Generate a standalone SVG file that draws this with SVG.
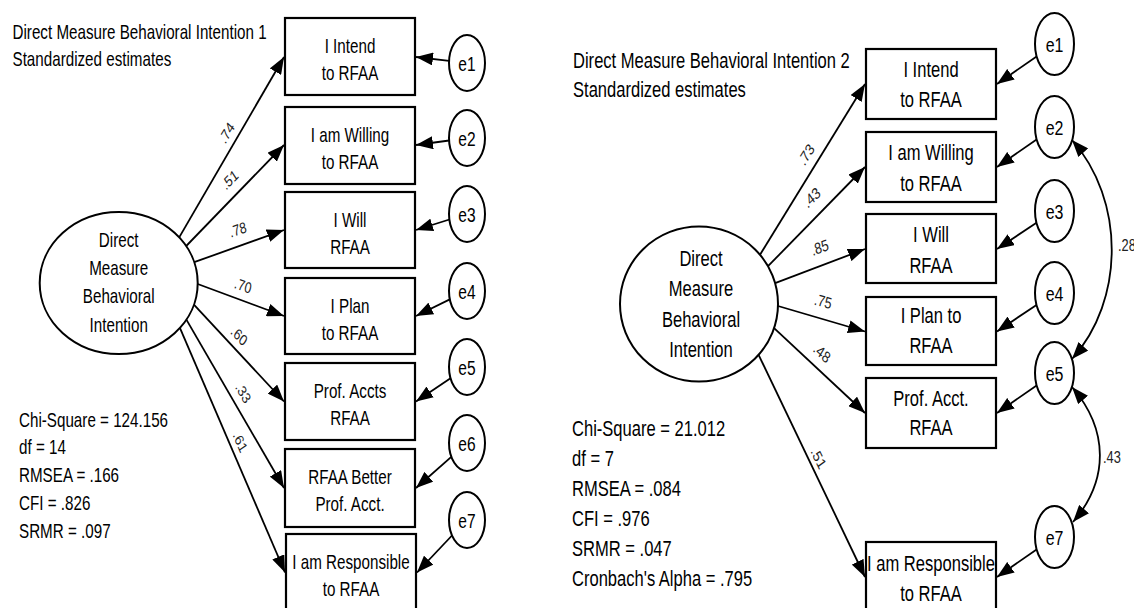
<svg xmlns="http://www.w3.org/2000/svg" width="1134" height="608" viewBox="0 0 1134 608">
<style>
text{font-family:"Liberation Sans",Arial,sans-serif;fill:#000}
.a{font-size:20px}
.b{font-size:21.5px}
.e{font-size:21px}
.m{text-anchor:middle}
.lab{font-size:15.5px;fill:#222;text-anchor:middle}
.labr{font-size:16px;fill:#222;text-anchor:middle}
.box{fill:#fff;stroke:#000;stroke-width:2.2}
.ell{fill:#fff;stroke:#000;stroke-width:2}
.c line,.c path{stroke:#000;stroke-width:1.8;fill:none}
</style>
<defs>
<marker id="ah" viewBox="0 0 17 13" markerWidth="17" markerHeight="13" refX="17" refY="6.5" orient="auto-start-reverse" markerUnits="userSpaceOnUse"><path d="M0,0 L17,6.5 L0,13 z" fill="#000"/></marker>
</defs>

<g id="title-left">
<text class="a" transform="translate(12.5,0) scale(0.76,1)"><tspan x="0" y="39">Direct Measure Behavioral Intention 1</tspan><tspan x="0" y="66.5">Standardized estimates</tspan></text>
</g>
<g id="stats-left">
<text class="a" transform="translate(19,0) scale(0.76,1)"><tspan x="0" y="427">Chi-Square = 124.156</tspan><tspan x="0" y="454.5">df = 14</tspan><tspan x="0" y="482">RMSEA = .166</tspan><tspan x="0" y="510">CFI = .826</tspan><tspan x="0" y="538">SRMR = .097</tspan></text>
</g>

<g id="title-right">
<text class="b" transform="translate(573,0) scale(0.77,1)"><tspan x="0" y="68">Direct Measure Behavioral Intention 2</tspan><tspan x="0" y="97">Standardized estimates</tspan></text>
</g>
<g id="stats-right">
<text class="b" transform="translate(572,0) scale(0.77,1)"><tspan x="0" y="436">Chi-Square = 21.012</tspan><tspan x="0" y="466">df = 7</tspan><tspan x="0" y="496.5">RMSEA = .084</tspan><tspan x="0" y="526.5">CFI = .976</tspan><tspan x="0" y="556.5">SRMR = .047</tspan><tspan x="0" y="586.5">Cronbach's Alpha = .795</tspan></text>
</g>

<g id="connectors" class="c">
<line x1="179.2" y1="237.4" x2="284" y2="57" marker-end="url(#ah)"/>
<line x1="186.2" y1="246" x2="284" y2="145" marker-end="url(#ah)"/>
<line x1="194.2" y1="262.2" x2="284" y2="230" marker-end="url(#ah)"/>
<line x1="197.7" y1="284" x2="284" y2="316" marker-end="url(#ah)"/>
<line x1="193.9" y1="304.7" x2="284" y2="401.5" marker-end="url(#ah)"/>
<line x1="186.4" y1="319.6" x2="284" y2="488" marker-end="url(#ah)"/>
<line x1="179.9" y1="327.9" x2="285" y2="572.5" marker-end="url(#ah)"/>
<line x1="449.1" y1="60.9" x2="416" y2="57" marker-end="url(#ah)"/>
<line x1="449.1" y1="140.5" x2="416" y2="145" marker-end="url(#ah)"/>
<line x1="449.4" y1="219.5" x2="416" y2="230" marker-end="url(#ah)"/>
<line x1="449.8" y1="299.4" x2="416" y2="316" marker-end="url(#ah)"/>
<line x1="450.5" y1="378.2" x2="416" y2="401.5" marker-end="url(#ah)"/>
<line x1="451.3" y1="456.8" x2="416" y2="488" marker-end="url(#ah)"/>
<line x1="452" y1="535.5" x2="417" y2="572.5" marker-end="url(#ah)"/>
<line x1="760" y1="254.7" x2="865" y2="84" marker-end="url(#ah)"/>
<line x1="768" y1="266.2" x2="865" y2="167" marker-end="url(#ah)"/>
<line x1="775.1" y1="283.2" x2="865" y2="249" marker-end="url(#ah)"/>
<line x1="778" y1="306" x2="865" y2="331.5" marker-end="url(#ah)"/>
<line x1="774.1" y1="328.1" x2="865" y2="413" marker-end="url(#ah)"/>
<line x1="758.6" y1="354.8" x2="865" y2="577" marker-end="url(#ah)"/>
<line x1="1036.6" y1="56.4" x2="997" y2="84" marker-end="url(#ah)"/>
<line x1="1036.6" y1="139.4" x2="997" y2="167" marker-end="url(#ah)"/>
<line x1="1036.5" y1="222.8" x2="997" y2="249" marker-end="url(#ah)"/>
<line x1="1036.5" y1="304.9" x2="997" y2="331.5" marker-end="url(#ah)"/>
<line x1="1036.6" y1="385.4" x2="997" y2="413" marker-end="url(#ah)"/>
<line x1="1036.6" y1="549.4" x2="997" y2="577" marker-end="url(#ah)"/>
<path d="M1072,140 C1125,200 1125,300 1072,359" marker-start="url(#ah)" marker-end="url(#ah)"/>
<path d="M1072,387 C1109,430 1109,480 1073,522" marker-start="url(#ah)" marker-end="url(#ah)"/>
<text class="lab" transform="translate(227,133) scale(0.8,1) rotate(-53.9)" y="5">.74</text>
<text class="lab" transform="translate(230,180) scale(0.8,1) rotate(-39.5)" y="5">.51</text>
<text class="lab" transform="translate(238,230) scale(0.8,1) rotate(-15.9)" y="5">.78</text>
<text class="lab" transform="translate(243,286) scale(0.8,1) rotate(16.6)" y="5">.70</text>
<text class="lab" transform="translate(239,336) scale(0.8,1) rotate(40.6)" y="5">.60</text>
<text class="lab" transform="translate(243,393) scale(0.8,1) rotate(53.9)" y="5">.33</text>
<text class="lab" transform="translate(240,442) scale(0.8,1) rotate(61.7)" y="5">.61</text>
<text class="labr" transform="translate(806.7,155) scale(0.8,1) rotate(-52.4)" y="5">.73</text>
<text class="labr" transform="translate(812,198) scale(0.8,1) rotate(-39.2)" y="5">.43</text>
<text class="labr" transform="translate(820,248) scale(0.8,1) rotate(-17)" y="5">.85</text>
<text class="labr" transform="translate(823,302) scale(0.8,1) rotate(13)" y="5">.75</text>
<text class="labr" transform="translate(821.7,353.3) scale(0.8,1) rotate(36.8)" y="5">.48</text>
<text class="labr" transform="translate(818.3,458.3) scale(0.8,1) rotate(59.1)" y="5">.51</text>
<text class="labr" transform="translate(1118,251) scale(0.8,1)" style="text-anchor:start">.28</text>
<text class="labr" transform="translate(1103,463) scale(0.8,1)" style="text-anchor:start">.43</text>
</g>

<g id="latent-left">
<ellipse class="ell" cx="118.7" cy="283" rx="79" ry="71"/>
<text class="a m" transform="translate(118.7,0) scale(0.76,1)"><tspan x="0" y="247">Direct</tspan><tspan x="0" y="275">Measure</tspan><tspan x="0" y="303">Behavioral</tspan><tspan x="0" y="332">Intention</tspan></text>
</g>

<g id="L1"><rect class="box" x="285" y="18" width="130" height="77"/><text class="a m" transform="translate(350,0) scale(0.76,1)"><tspan x="0" y="53">I Intend</tspan><tspan x="0" y="80">to RFAA</tspan></text></g>
<g id="L2"><rect class="box" x="285" y="107" width="130" height="77"/><text class="a m" transform="translate(350,0) scale(0.76,1)"><tspan x="0" y="142">I am Willing</tspan><tspan x="0" y="169">to RFAA</tspan></text></g>
<g id="L3"><rect class="box" x="285" y="192" width="130" height="76"/><text class="a m" transform="translate(350,0) scale(0.76,1)"><tspan x="0" y="227">I Will</tspan><tspan x="0" y="254">RFAA</tspan></text></g>
<g id="L4"><rect class="box" x="285" y="278" width="130" height="76"/><text class="a m" transform="translate(350,0) scale(0.76,1)"><tspan x="0" y="313">I Plan</tspan><tspan x="0" y="340">to RFAA</tspan></text></g>
<g id="L5"><rect class="box" x="285" y="363" width="130" height="77"/><text class="a m" transform="translate(350,0) scale(0.76,1)"><tspan x="0" y="398">Prof. Accts</tspan><tspan x="0" y="425">RFAA</tspan></text></g>
<g id="L6"><rect class="box" x="285" y="449" width="130" height="78"/><text class="a m" transform="translate(350,0) scale(0.76,1)"><tspan x="0" y="484">RFAA Better</tspan><tspan x="0" y="511">Prof. Acct.</tspan></text></g>
<g id="L7"><rect class="box" x="286" y="534" width="130" height="78"/><text class="a m" transform="translate(351,0) scale(0.76,1)"><tspan x="0" y="569">I am Responsible</tspan><tspan x="0" y="596">to RFAA</tspan></text></g>

<g id="Le1"><ellipse class="ell" cx="467" cy="63" rx="18" ry="28"/><text class="e m" transform="translate(467,70.5) scale(0.74,1)">e1</text></g>
<g id="Le2"><ellipse class="ell" cx="467" cy="138" rx="18" ry="28"/><text class="e m" transform="translate(467,145.5) scale(0.74,1)">e2</text></g>
<g id="Le3"><ellipse class="ell" cx="467" cy="214" rx="18" ry="28"/><text class="e m" transform="translate(467,221.5) scale(0.74,1)">e3</text></g>
<g id="Le4"><ellipse class="ell" cx="467" cy="291" rx="18" ry="28"/><text class="e m" transform="translate(467,298.5) scale(0.74,1)">e4</text></g>
<g id="Le5"><ellipse class="ell" cx="467" cy="367" rx="18" ry="28"/><text class="e m" transform="translate(467,374.5) scale(0.74,1)">e5</text></g>
<g id="Le6"><ellipse class="ell" cx="467" cy="443" rx="18" ry="28"/><text class="e m" transform="translate(467,450.5) scale(0.74,1)">e6</text></g>
<g id="Le7"><ellipse class="ell" cx="467" cy="520" rx="18" ry="28"/><text class="e m" transform="translate(467,527.5) scale(0.74,1)">e7</text></g>

<g id="latent-right">
<ellipse class="ell" cx="699" cy="304" rx="79" ry="77.5"/>
<text class="b m" transform="translate(701,0) scale(0.77,1)"><tspan x="0" y="266.5">Direct</tspan><tspan x="0" y="296.5">Measure</tspan><tspan x="0" y="327">Behavioral</tspan><tspan x="0" y="357.5">Intention</tspan></text>
</g>

<g id="R1"><rect class="box" x="866" y="49" width="130" height="70"/><text class="b m" transform="translate(931,0) scale(0.77,1)"><tspan x="0" y="77.5">I Intend</tspan><tspan x="0" y="107.5">to RFAA</tspan></text></g>
<g id="R2"><rect class="box" x="866" y="132" width="130" height="70"/><text class="b m" transform="translate(931,0) scale(0.77,1)"><tspan x="0" y="160">I am Willing</tspan><tspan x="0" y="191">to RFAA</tspan></text></g>
<g id="R3"><rect class="box" x="866" y="214" width="130" height="69"/><text class="b m" transform="translate(931,0) scale(0.77,1)"><tspan x="0" y="242">I Will</tspan><tspan x="0" y="273">RFAA</tspan></text></g>
<g id="R4"><rect class="box" x="866" y="297" width="130" height="68"/><text class="b m" transform="translate(931,0) scale(0.77,1)"><tspan x="0" y="323.5">I Plan to</tspan><tspan x="0" y="353.5">RFAA</tspan></text></g>
<g id="R5"><rect class="box" x="866" y="378" width="130" height="70"/><text class="b m" transform="translate(931,0) scale(0.77,1)"><tspan x="0" y="406.5">Prof. Acct.</tspan><tspan x="0" y="435.5">RFAA</tspan></text></g>
<g id="R7"><rect class="box" x="866" y="542" width="130" height="70"/><text class="b m" transform="translate(931,0) scale(0.77,1)"><tspan x="0" y="571.5">I am Responsible</tspan><tspan x="0" y="601.5">to RFAA</tspan></text></g>

<g id="Re1"><ellipse class="ell" cx="1054.5" cy="44" rx="19.5" ry="31"/><text class="e m" transform="translate(1054.5,51.5) scale(0.76,1)">e1</text></g>
<g id="Re2"><ellipse class="ell" cx="1054.5" cy="127" rx="19.5" ry="31"/><text class="e m" transform="translate(1054.5,134.5) scale(0.76,1)">e2</text></g>
<g id="Re3"><ellipse class="ell" cx="1054.5" cy="211" rx="19.5" ry="31"/><text class="e m" transform="translate(1054.5,218.5) scale(0.76,1)">e3</text></g>
<g id="Re4"><ellipse class="ell" cx="1054.5" cy="293" rx="19.5" ry="31"/><text class="e m" transform="translate(1054.5,300.5) scale(0.76,1)">e4</text></g>
<g id="Re5"><ellipse class="ell" cx="1054.5" cy="373" rx="19.5" ry="31"/><text class="e m" transform="translate(1054.5,380.5) scale(0.76,1)">e5</text></g>
<g id="Re7"><ellipse class="ell" cx="1054.5" cy="537" rx="19.5" ry="31"/><text class="e m" transform="translate(1054.5,544.5) scale(0.76,1)">e7</text></g>
</svg>
